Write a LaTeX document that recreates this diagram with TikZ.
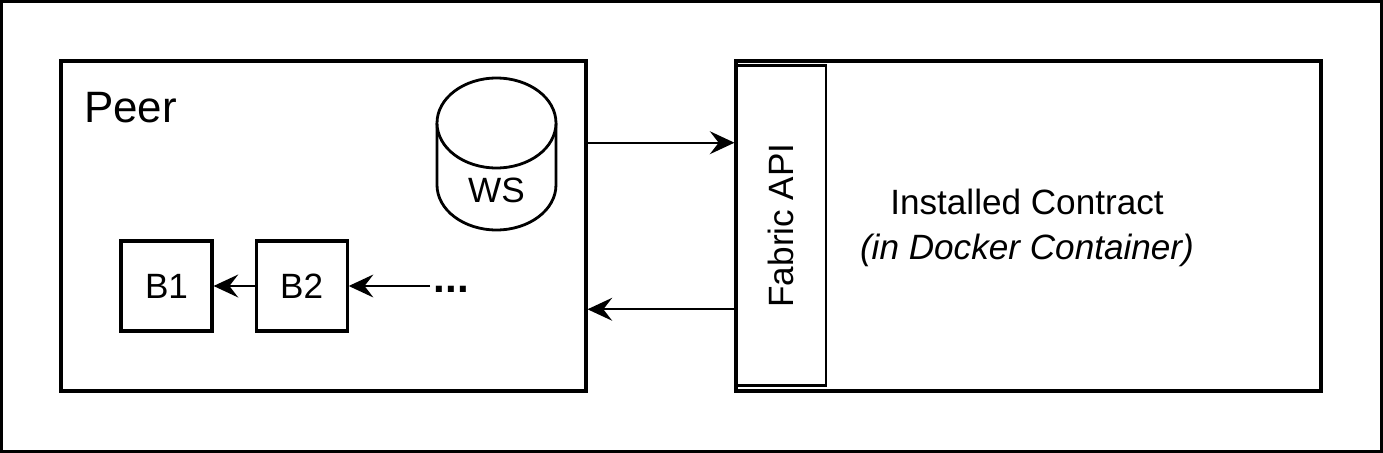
\documentclass[tikz,border=0pt]{standalone}
\usepackage{fontspec}
\setmainfont{Liberation Sans}
\usepackage{tikz}
\usetikzlibrary{positioning,arrows.meta,calc}
\tikzset{
    box/.style={draw,line width=1.8pt,rectangle,inner sep=0pt},
    arr/.style={-{Stealth[length=14pt,width=13pt,inset=5pt]},line width=1.3pt},
}
\newcommand{\txt}{\fontsize{20}{26}\selectfont}

\begin{document}
\begin{tikzpicture}[x=0.02cm,y=-0.02cm]
            \useasboundingbox (0,0) rectangle (1383,453);
            \draw[line width=1.8pt] (1.5,1.5) rectangle (1381.5,451.5);
            % peer side
            \node[box,minimum width=10.5cm,minimum height=6.6cm] (peer) at (323.5,226) {};
            \node[anchor=west,font=\fontsize{25}{30}\selectfont] (peerlbl) at (78,108) {Peer};
            \draw[line width=1.6pt] (437,123) -- (437,185) arc[start angle=180,end angle=360,x radius=1.19cm,y radius=0.9cm] -- (556,123);
            \draw[line width=1.6pt,fill=white] (496.5,123) ellipse [x radius=1.19cm,y radius=0.9cm];
            \node[font=\txt] (ws) at (496.5,190) {WS};
            \node[box,minimum width=1.82cm,minimum height=1.8cm,font=\txt] (b1) at (166.5,286) {B1};
            \node[box,minimum width=1.82cm,minimum height=1.8cm,font=\txt,right=0.82cm of b1] (b2) {B2};
            \node[font=\fontsize{24}{28}\selectfont\bfseries,inner sep=2pt,anchor=west] (dots) at (430,289) {...};
            \draw[arr] (b2) -- (b1);
            \draw[arr] (dots.west |- b2) -- (b2);
            % contract side
            \node[box,minimum width=11.7cm,minimum height=6.6cm] (contract) at (1028.5,226) {};
            \node[box,line width=1.4pt,minimum width=1.8cm,minimum height=6.4cm] (api) at (781,225.5) {};
            \node[font=\txt,rotate=90] (apilbl) at (api) {Fabric API};
            \node[font=\txt,align=center] (contractlbl) at (1027,228) {Installed Contract\\\textit{(in Docker Container)}};
            % calls
            \draw[arr] ($(peer.north east)!.25!(peer.south east)$) -- ($(contract.north west)!.25!(contract.south west)$);
            \draw[arr] ($(contract.north west)!.75!(contract.south west)$) -- ($(peer.north east)!.75!(peer.south east)$);
        \end{tikzpicture}
\end{document}
